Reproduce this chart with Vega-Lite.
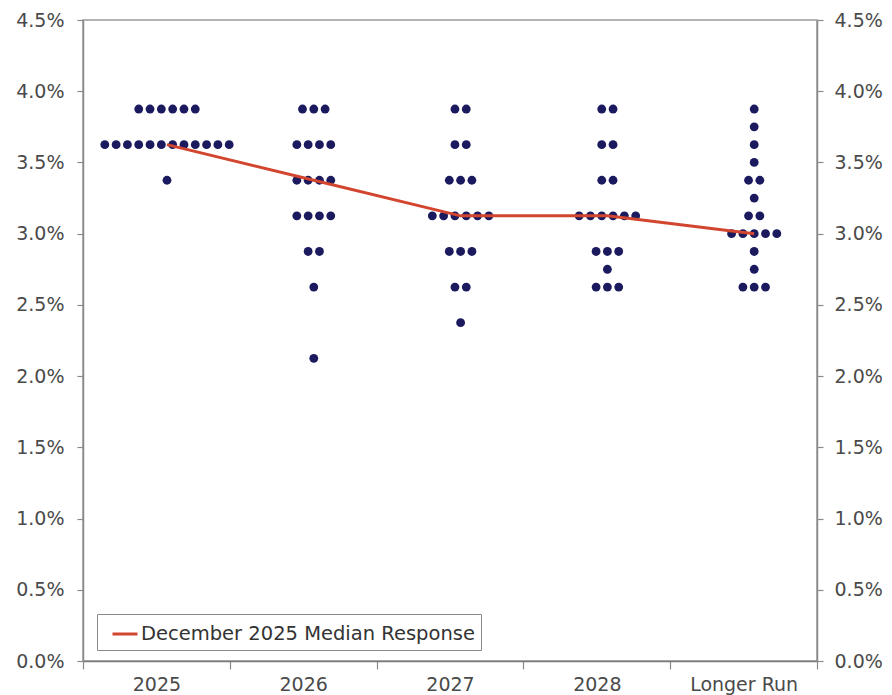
{
  "$schema": "https://vega.github.io/schema/vega-lite/v6.json",
  "width": 734,
  "height": 641,
  "autosize": {"type": "none"},
  "padding": {"left": 83, "top": 20, "right": 75, "bottom": 34},
  "background": "white",
  "config": {
    "font": "DejaVu Sans",
    "view": {"stroke": "#9a9a9a", "strokeWidth": 1.5},
    "axis": {"labelFont": "DejaVu Sans", "labelFontSize": 19, "labelColor": "#4a4a4a", "domainColor": "#8a8a8a", "domainWidth": 1.5, "tickColor": "#8a8a8a", "tickWidth": 1.2, "grid": false, "title": null}
  },
  "datasets": {
    "dots": [
      {"year": "2025", "rate": 3.875}, {"year": "2025", "rate": 3.875}, {"year": "2025", "rate": 3.875}, {"year": "2025", "rate": 3.875}, {"year": "2025", "rate": 3.875}, {"year": "2025", "rate": 3.875},
      {"year": "2025", "rate": 3.625}, {"year": "2025", "rate": 3.625}, {"year": "2025", "rate": 3.625}, {"year": "2025", "rate": 3.625}, {"year": "2025", "rate": 3.625}, {"year": "2025", "rate": 3.625},
      {"year": "2025", "rate": 3.625}, {"year": "2025", "rate": 3.625}, {"year": "2025", "rate": 3.625}, {"year": "2025", "rate": 3.625}, {"year": "2025", "rate": 3.625}, {"year": "2025", "rate": 3.625},
      {"year": "2025", "rate": 3.375},
      {"year": "2026", "rate": 3.875}, {"year": "2026", "rate": 3.875}, {"year": "2026", "rate": 3.875},
      {"year": "2026", "rate": 3.625}, {"year": "2026", "rate": 3.625}, {"year": "2026", "rate": 3.625}, {"year": "2026", "rate": 3.625},
      {"year": "2026", "rate": 3.375}, {"year": "2026", "rate": 3.375}, {"year": "2026", "rate": 3.375}, {"year": "2026", "rate": 3.375},
      {"year": "2026", "rate": 3.125}, {"year": "2026", "rate": 3.125}, {"year": "2026", "rate": 3.125}, {"year": "2026", "rate": 3.125},
      {"year": "2026", "rate": 2.875}, {"year": "2026", "rate": 2.875},
      {"year": "2026", "rate": 2.625},
      {"year": "2026", "rate": 2.125},
      {"year": "2027", "rate": 3.875}, {"year": "2027", "rate": 3.875},
      {"year": "2027", "rate": 3.625}, {"year": "2027", "rate": 3.625},
      {"year": "2027", "rate": 3.375}, {"year": "2027", "rate": 3.375}, {"year": "2027", "rate": 3.375},
      {"year": "2027", "rate": 3.125}, {"year": "2027", "rate": 3.125}, {"year": "2027", "rate": 3.125}, {"year": "2027", "rate": 3.125}, {"year": "2027", "rate": 3.125}, {"year": "2027", "rate": 3.125},
      {"year": "2027", "rate": 2.875}, {"year": "2027", "rate": 2.875}, {"year": "2027", "rate": 2.875},
      {"year": "2027", "rate": 2.625}, {"year": "2027", "rate": 2.625},
      {"year": "2027", "rate": 2.375},
      {"year": "2028", "rate": 3.875}, {"year": "2028", "rate": 3.875},
      {"year": "2028", "rate": 3.625}, {"year": "2028", "rate": 3.625},
      {"year": "2028", "rate": 3.375}, {"year": "2028", "rate": 3.375},
      {"year": "2028", "rate": 3.125}, {"year": "2028", "rate": 3.125}, {"year": "2028", "rate": 3.125}, {"year": "2028", "rate": 3.125}, {"year": "2028", "rate": 3.125}, {"year": "2028", "rate": 3.125},
      {"year": "2028", "rate": 2.875}, {"year": "2028", "rate": 2.875}, {"year": "2028", "rate": 2.875},
      {"year": "2028", "rate": 2.75},
      {"year": "2028", "rate": 2.625}, {"year": "2028", "rate": 2.625}, {"year": "2028", "rate": 2.625},
      {"year": "Longer Run", "rate": 3.875},
      {"year": "Longer Run", "rate": 3.75},
      {"year": "Longer Run", "rate": 3.625},
      {"year": "Longer Run", "rate": 3.5},
      {"year": "Longer Run", "rate": 3.375}, {"year": "Longer Run", "rate": 3.375},
      {"year": "Longer Run", "rate": 3.25},
      {"year": "Longer Run", "rate": 3.125}, {"year": "Longer Run", "rate": 3.125},
      {"year": "Longer Run", "rate": 3.0}, {"year": "Longer Run", "rate": 3.0}, {"year": "Longer Run", "rate": 3.0}, {"year": "Longer Run", "rate": 3.0}, {"year": "Longer Run", "rate": 3.0},
      {"year": "Longer Run", "rate": 2.875},
      {"year": "Longer Run", "rate": 2.75},
      {"year": "Longer Run", "rate": 2.625}, {"year": "Longer Run", "rate": 2.625}, {"year": "Longer Run", "rate": 2.625}
    ],
    "median": [
      {"year": "2025", "median": 3.625},
      {"year": "2026", "median": 3.375},
      {"year": "2027", "median": 3.125},
      {"year": "2028", "median": 3.125},
      {"year": "Longer Run", "median": 3.0}
    ]
  },
  "layer": [
    {
      "data": {"name": "dots"},
      "transform": [
        {"window": [{"op": "row_number", "as": "k"}], "groupby": ["year", "rate"]},
        {"joinaggregate": [{"op": "count", "as": "n"}], "groupby": ["year", "rate"]},
        {"calculate": "datum.k - (datum.n + 1) / 2", "as": "off"}
      ],
      "mark": {"type": "point", "filled": true, "size": 78, "opacity": 1, "color": "#1c1a5e"},
      "encoding": {
        "x": {"field": "year", "type": "nominal", "sort": ["2025", "2026", "2027", "2028", "Longer Run"],
              "scale": {"paddingInner": 0, "paddingOuter": 0},
              "axis": {"labelAngle": 0, "tickBand": "extent", "tickSize": 8, "labelPadding": 6, "domainColor": "#7a7a7a"}},
        "xOffset": {"field": "off", "type": "quantitative", "scale": {"domain": [-6.5, 6.5], "range": [10.5, 157.5]}},
        "y": {"field": "rate", "type": "quantitative",
              "scale": {"domain": [0, 4.5], "nice": false, "zero": true},
              "axis": {"orient": "left", "values": [0, 0.5, 1, 1.5, 2, 2.5, 3, 3.5, 4, 4.5], "labelExpr": "format(datum.value, '.1f') + '%'", "tickSize": 6, "labelPadding": 13}}
      }
    },
    {
      "data": {"name": "median"},
      "mark": {"type": "line", "strokeWidth": 3},
      "encoding": {
        "x": {"field": "year", "type": "nominal", "sort": ["2025", "2026", "2027", "2028", "Longer Run"],
              "axis": {"labelAngle": 0, "tickBand": "extent", "tickSize": 8, "labelPadding": 6, "domainColor": "#7a7a7a"}},
        "xOffset": {"datum": 0, "type": "quantitative"},
        "y": {"field": "median", "type": "quantitative",
              "axis": {"orient": "right", "values": [0, 0.5, 1, 1.5, 2, 2.5, 3, 3.5, 4, 4.5], "labelExpr": "format(datum.value, '.1f') + '%'", "tickSize": 6, "labelPadding": 11}},
        "color": {"datum": "December 2025 Median Response", "type": "nominal",
                  "scale": {"range": ["#d2452e"]},
                  "legend": {"title": null, "orient": "none", "legendX": 14, "legendY": 594,
                             "symbolType": "stroke", "symbolSize": 625, "symbolStrokeWidth": 3,
                             "labelFont": "DejaVu Sans", "labelFontSize": 19.5, "labelColor": "#333333", "labelLimit": 500, "labelOffset": 2,
                             "strokeColor": "#8a8a8a", "fillColor": "white", "padding": 6, "symbolOffset": 8}}
      }
    }
  ],
  "resolve": {"axis": {"y": "independent"}}
}
